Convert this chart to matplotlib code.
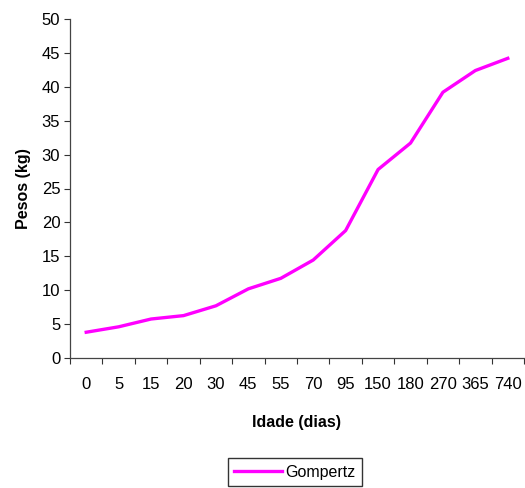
import numpy as np
import matplotlib.pyplot as plt

plt.rcParams['font.family'] = ['Liberation Sans', 'DejaVu Sans']

# idade (dias) e peso estimado pelo modelo de Gompertz
idades = ["0", "5", "15", "20", "30", "45", "55", "70", "95", "150", "180", "270", "365", "740"]
pesos = [3.8, 4.6, 5.75, 6.25, 7.7, 10.2, 11.75, 14.45, 18.8, 27.8, 31.7, 39.2, 42.4, 44.2]

fig = plt.figure(figsize=(5.25, 4.88), dpi=100)
ax = fig.add_axes([70 / 525, 1 - 358 / 488, 454 / 525, 339 / 488])

x = np.arange(len(idades))
ax.plot(x, pesos, color="#FF00FF", lw=2.4, label="Gompertz", solid_joinstyle="round")

ax.set_xlim(-0.5, len(idades) - 0.5)
ax.set_ylim(0, 50)
ax.set_yticks(np.arange(0, 51, 5))

# rótulos no centro da categoria, traços nas divisões
ax.set_xticks(x)
ax.set_xticklabels(idades)
ax.set_xticks(np.arange(-0.5, len(idades), 1), minor=True)
ax.tick_params(axis="x", which="major", length=0, pad=14, labelsize=12)
ax.tick_params(axis="x", which="minor", length=4, width=0.8, color="#333333")
ax.tick_params(axis="y", length=4, width=0.8, color="#333333", labelsize=12, pad=3)

for side in ("top", "right"):
    ax.spines[side].set_visible(False)
for side in ("left", "bottom"):
    ax.spines[side].set_color("#444444")
    ax.spines[side].set_linewidth(0.9)

ax.set_xlabel("Idade (dias)", fontsize=11.5, fontweight="bold", labelpad=16)
ax.set_ylabel("Pesos (kg)", fontsize=11.5, fontweight="bold", labelpad=8)

fig.legend(loc="center", bbox_to_anchor=(0.562, 0.032), frameon=True, fancybox=False,
           edgecolor="black", fontsize=11.5, handlelength=3.0, handletextpad=0.2,
           borderpad=0.4, borderaxespad=0)

fig.savefig("out.png", dpi=100)
